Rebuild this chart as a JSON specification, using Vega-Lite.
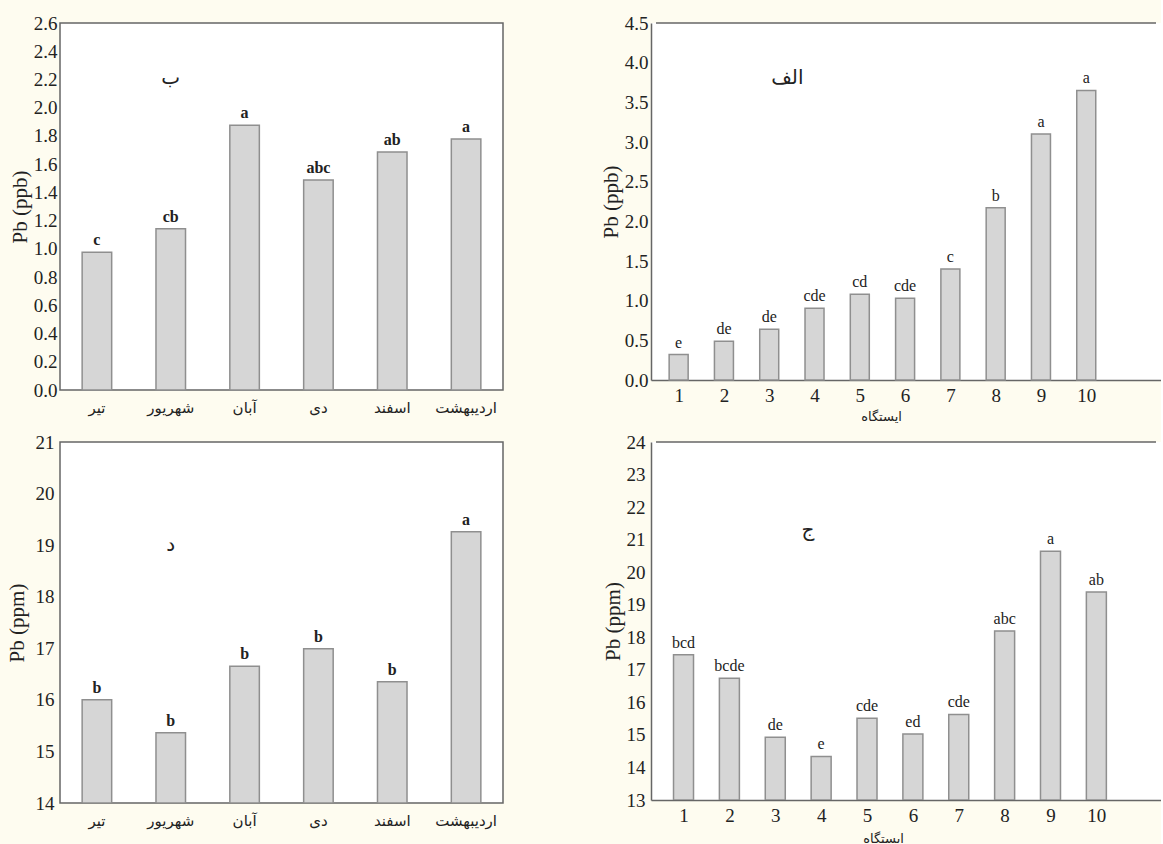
{
  "$schema": "https://vega.github.io/schema/vega-lite/v6.json",
  "background": "#FEFCF0",
  "padding": {"left": 5, "top": 13, "right": 0, "bottom": 0},
  "columns": 2,
  "align": "each",
  "bounds": "flush",
  "spacing": {"row": 52, "column": 148},
  "config": {
    "font": "Liberation Serif",
    "view": {"stroke": null, "fill": "#FFFFFF"},
    "axis": {
      "domainColor": "#666666",
      "domainWidth": 1.5,
      "grid": false,
      "ticks": false,
      "labelFont": "Liberation Serif",
      "labelFontSize": 19,
      "labelColor": "#222222",
      "labelFlush": false,
      "labelOverlap": false,
      "labelBound": false,
      "titleFont": "Liberation Serif",
      "titleFontSize": 21,
      "titleFontWeight": "normal",
      "titleColor": "#222222"
    }
  },
  "concat": [
    {
      "width": 443,
      "height": 367,
      "view": {"stroke": "#666666", "strokeWidth": 1.5, "fill": "#FFFFFF"},
      "data": {"values": [
        {"month": "تیر", "pb": 0.976, "grp": "c"},
        {"month": "شهریور", "pb": 1.143, "grp": "cb"},
        {"month": "آبان", "pb": 1.876, "grp": "a"},
        {"month": "دی", "pb": 1.488, "grp": "abc"},
        {"month": "اسفند", "pb": 1.686, "grp": "ab"},
        {"month": "اردیبهشت", "pb": 1.779, "grp": "a"}
      ]},
      "encoding": {
        "x": {"field": "month", "type": "nominal", "sort": null,
          "scale": {"paddingInner": 0.6, "paddingOuter": 0.3},
          "axis": {"title": null, "labelAngle": 0, "labelFont": "DejaVu Sans", "labelFontSize": 15, "labelPadding": 10, "domain": false}},
        "y": {"field": "pb", "type": "quantitative",
          "scale": {"domain": [0, 2.6], "nice": false},
          "axis": {"title": "Pb (ppb)", "values": [0, 0.2, 0.4, 0.6, 0.8, 1.0, 1.2, 1.4, 1.6, 1.8, 2.0, 2.2, 2.4, 2.6], "format": ".1f", "labelOverlap": false, "labelPadding": 3, "titlePadding": 3, "domain": false}}
      },
      "layer": [
        {"mark": {"type": "bar", "fill": "#d6d6d6", "stroke": "#8f8f8f", "strokeWidth": 1.5}},
        {
          "mark": {"type": "text", "dy": -7, "baseline": "alphabetic", "fontWeight": "bold", "fontSize": 16, "color": "#222222"},
          "encoding": {"text": {"field": "grp"}}
        },
        {
          "data": {"values": [{"panel": "ب", "month": "شهریور", "pb": 2.21}]},
          "mark": {"type": "text", "fontSize": 20, "baseline": "middle", "font": "DejaVu Sans", "color": "#222222"},
          "encoding": {"text": {"field": "panel"}}
        }
      ]
    },
    {
      "width": 510,
      "height": 357,
      "data": {"values": [
        {"station": 1, "pb": 0.32, "grp": "e"},
        {"station": 2, "pb": 0.49, "grp": "de"},
        {"station": 3, "pb": 0.64, "grp": "de"},
        {"station": 4, "pb": 0.905, "grp": "cde"},
        {"station": 5, "pb": 1.08, "grp": "cd"},
        {"station": 6, "pb": 1.03, "grp": "cde"},
        {"station": 7, "pb": 1.40, "grp": "c"},
        {"station": 8, "pb": 2.17, "grp": "b"},
        {"station": 9, "pb": 3.10, "grp": "a"},
        {"station": 10, "pb": 3.65, "grp": "a"}
      ]},
      "encoding": {
        "x": {"field": "station", "type": "quantitative",
          "scale": {"domain": [0.5, 11.54], "nice": false, "zero": false},
          "axis": {"title": "ایستگاه", "values": [1, 2, 3, 4, 5, 6, 7, 8, 9, 10], "format": "d", "labelPadding": 6, "titleFont": "DejaVu Sans", "titleFontSize": 13, "titleX": 230, "titleY": 30, "titleBaseline": "top", "titleAlign": "center"}},
        "y": {"field": "pb", "type": "quantitative",
          "scale": {"domain": [0, 4.5], "nice": false},
          "axis": {"title": "Pb (ppb)", "values": [0, 0.5, 1.0, 1.5, 2.0, 2.5, 3.0, 3.5, 4.0, 4.5], "format": ".1f", "labelOverlap": false, "labelPadding": 3, "titlePadding": 3}}
      },
      "layer": [
        {"mark": {"type": "bar", "width": 19, "fill": "#d6d6d6", "stroke": "#8f8f8f", "strokeWidth": 1.5}},
        {
          "mark": {"type": "text", "dy": -7, "baseline": "alphabetic", "fontSize": 16, "color": "#222222"},
          "encoding": {"text": {"field": "grp"}}
        },
        {
          "data": {"values": [{"panel": "الف", "station": 3.4, "pb": 3.81}]},
          "mark": {"type": "text", "fontSize": 20, "baseline": "middle", "font": "DejaVu Sans", "color": "#222222"},
          "encoding": {"text": {"field": "panel"}}
        },
        {
          "data": {"values": [{"station": 0.5, "end": 11.54, "pb": 4.5}]},
          "mark": {"type": "rule", "color": "#666666", "strokeWidth": 1.5},
          "encoding": {"x2": {"field": "end"}}
        }
      ]
    },
    {
      "width": 443,
      "height": 361,
      "view": {"stroke": "#666666", "strokeWidth": 1.5, "fill": "#FFFFFF"},
      "data": {"values": [
        {"month": "تیر", "pb": 16.0, "grp": "b"},
        {"month": "شهریور", "pb": 15.36, "grp": "b"},
        {"month": "آبان", "pb": 16.65, "grp": "b"},
        {"month": "دی", "pb": 16.99, "grp": "b"},
        {"month": "اسفند", "pb": 16.35, "grp": "b"},
        {"month": "اردیبهشت", "pb": 19.26, "grp": "a"}
      ]},
      "encoding": {
        "x": {"field": "month", "type": "nominal", "sort": null,
          "scale": {"paddingInner": 0.6, "paddingOuter": 0.3},
          "axis": {"title": null, "labelAngle": 0, "labelFont": "DejaVu Sans", "labelFontSize": 15, "labelPadding": 10, "domain": false}},
        "y": {"field": "pb", "type": "quantitative",
          "scale": {"domain": [14, 21], "nice": false, "zero": false},
          "axis": {"title": "Pb (ppm)", "values": [14, 15, 16, 17, 18, 19, 20, 21], "format": "d", "labelOverlap": false, "labelPadding": 6, "titlePadding": 8, "domain": false}}
      },
      "layer": [
        {
          "mark": {"type": "bar", "fill": "#d6d6d6", "stroke": "#8f8f8f", "strokeWidth": 1.5, "clip": true},
          "encoding": {"y2": {"datum": 14}}
        },
        {
          "mark": {"type": "text", "dy": -7, "baseline": "alphabetic", "fontWeight": "bold", "fontSize": 16, "color": "#222222"},
          "encoding": {"text": {"field": "grp"}}
        },
        {
          "data": {"values": [{"panel": "د", "month": "شهریور", "pb": 19.0}]},
          "mark": {"type": "text", "fontSize": 20, "baseline": "middle", "font": "DejaVu Sans", "color": "#222222"},
          "encoding": {"text": {"field": "panel"}}
        }
      ]
    },
    {
      "width": 510,
      "height": 358,
      "data": {"values": [
        {"station": 1, "pb": 17.46, "grp": "bcd"},
        {"station": 2, "pb": 16.74, "grp": "bcde"},
        {"station": 3, "pb": 14.93, "grp": "de"},
        {"station": 4, "pb": 14.34, "grp": "e"},
        {"station": 5, "pb": 15.51, "grp": "cde"},
        {"station": 6, "pb": 15.03, "grp": "ed"},
        {"station": 7, "pb": 15.63, "grp": "cde"},
        {"station": 8, "pb": 18.19, "grp": "abc"},
        {"station": 9, "pb": 20.64, "grp": "a"},
        {"station": 10, "pb": 19.39, "grp": "ab"}
      ]},
      "encoding": {
        "x": {"field": "station", "type": "quantitative",
          "scale": {"domain": [0.4, 11.3], "nice": false, "zero": false},
          "axis": {"title": "ایستگاه", "values": [1, 2, 3, 4, 5, 6, 7, 8, 9, 10], "format": "d", "labelPadding": 6, "titleFont": "DejaVu Sans", "titleFontSize": 13, "titleX": 232, "titleY": 32, "titleBaseline": "top", "titleAlign": "center"}},
        "y": {"field": "pb", "type": "quantitative",
          "scale": {"domain": [13, 24], "nice": false, "zero": false},
          "axis": {"title": "Pb (ppm)", "values": [13, 14, 15, 16, 17, 18, 19, 20, 21, 22, 23, 24], "format": "d", "labelOverlap": false, "labelPadding": 6, "titlePadding": 3}}
      },
      "layer": [
        {
          "mark": {"type": "bar", "width": 20, "fill": "#d6d6d6", "stroke": "#8f8f8f", "strokeWidth": 1.5, "clip": true},
          "encoding": {"y2": {"datum": 13}}
        },
        {
          "mark": {"type": "text", "dy": -7, "baseline": "alphabetic", "fontSize": 16, "color": "#222222"},
          "encoding": {"text": {"field": "grp"}}
        },
        {
          "data": {"values": [{"panel": "ج", "station": 3.71, "pb": 21.29}]},
          "mark": {"type": "text", "fontSize": 20, "baseline": "middle", "font": "DejaVu Sans", "color": "#222222"},
          "encoding": {"text": {"field": "panel"}}
        },
        {
          "data": {"values": [{"station": 0.4, "end": 11.3, "pb": 24}]},
          "mark": {"type": "rule", "color": "#666666", "strokeWidth": 1.5},
          "encoding": {"x2": {"field": "end"}}
        }
      ]
    }
  ]
}
